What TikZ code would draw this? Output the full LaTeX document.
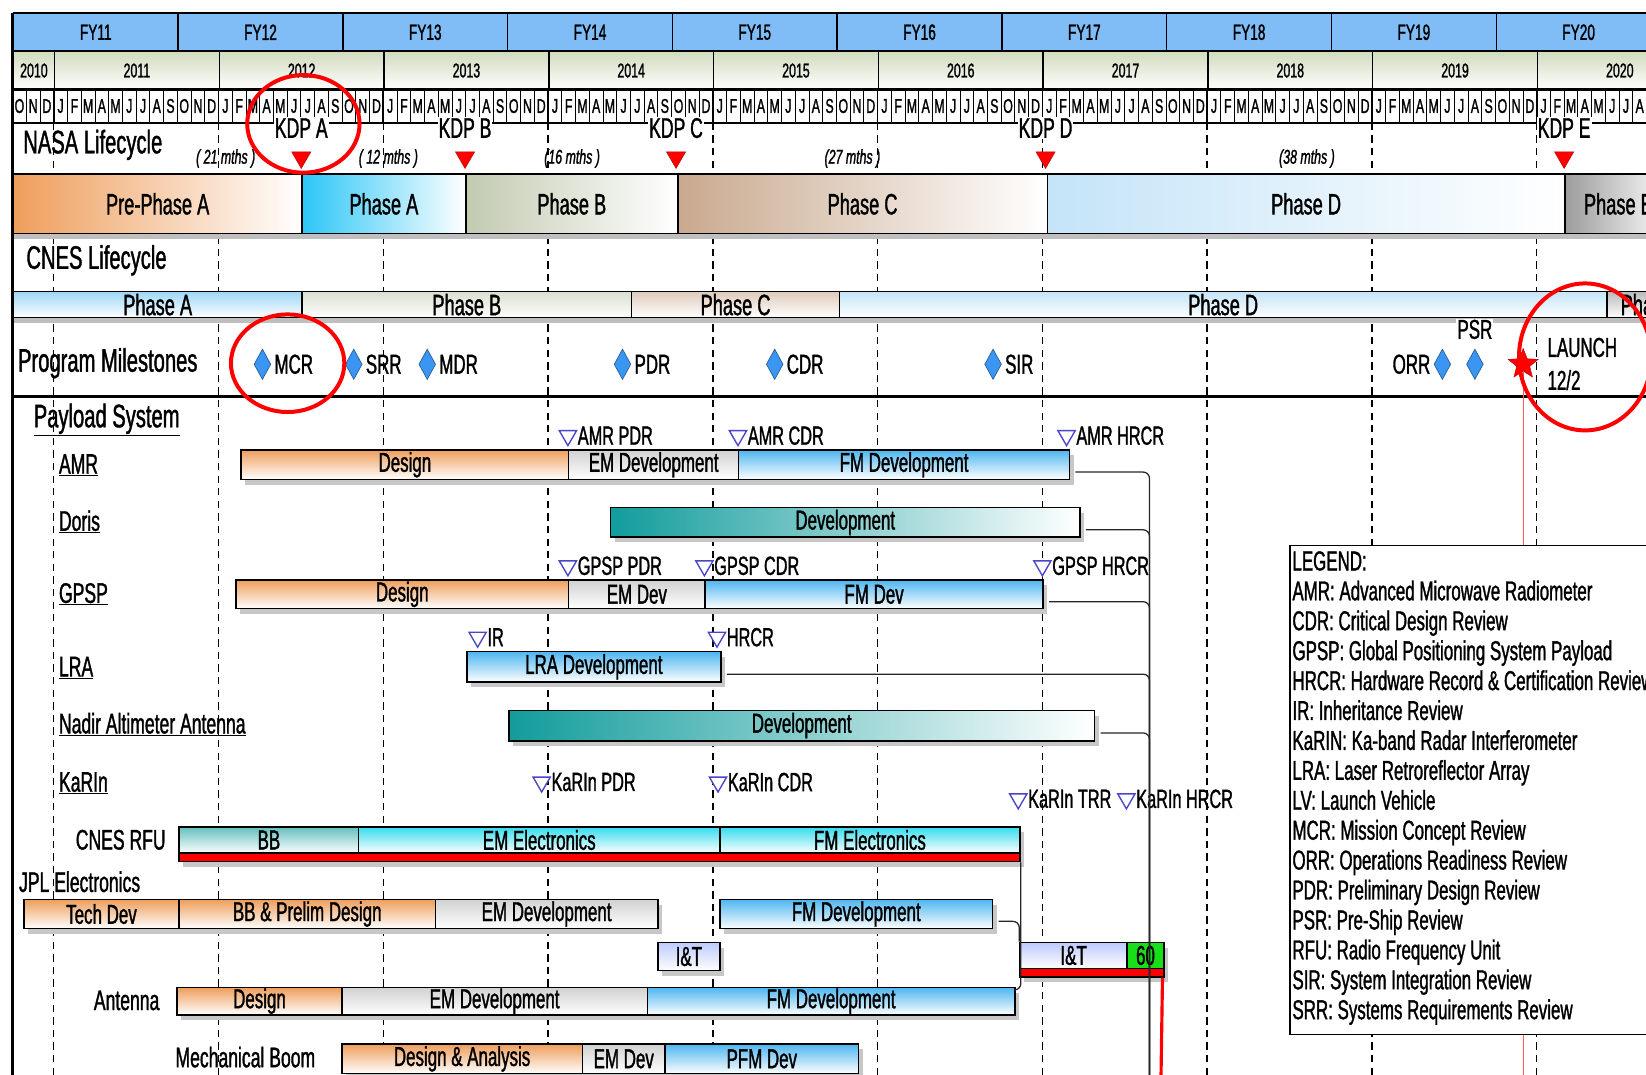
\documentclass[tikz,border=0pt]{standalone}
\usepackage{fontspec}
\setmainfont[FakeStretch=0.62, FakeBold=1.2]{Liberation Sans}
\usepackage{tikz}
\usetikzlibrary{arrows.meta, positioning, shapes.geometric, shadows, calc}
\definecolor{swotfy}{HTML}{80BDF7}
\definecolor{swotyear}{HTML}{D2DABE}
\definecolor{swotorange}{HTML}{EE9E5C}
\definecolor{swotcyan}{HTML}{2CC6F6}
\definecolor{swotsage}{HTML}{C2CAB0}
\definecolor{swottan}{HTML}{C9A98E}
\definecolor{swotsky}{HTML}{C4E4F8}
\definecolor{swotgrey}{HTML}{9C9C9C}
\definecolor{swotblue}{HTML}{4EB6F0}
\definecolor{swotteal}{HTML}{129C9C}
\definecolor{swotaqua}{HTML}{34DCEC}
\definecolor{swotdiamond}{HTML}{3A96F2}
\definecolor{swottri}{HTML}{4A46C8}
\definecolor{swotgreen}{HTML}{18E018}
\newcommand{\monthletter}[1]{\ifcase#1 O\or N\or D\or J\or F\or M\or A\or M\or J\or J\or A\or S\fi}

\tikzset{
  fycell/.style={draw=black, line width=1.4pt, fill=swotfy, anchor=north west, inner sep=0pt,
    minimum height=36pt, font=\fontsize{21}{23}\selectfont},
  yearcell/.style={draw=black, line width=1.4pt, top color=swotyear, bottom color=white,
    anchor=north west, inner sep=0pt, minimum height=37pt, font=\fontsize{19}{21}\selectfont},
  monthlab/.style={inner sep=0pt, font=\fontsize{19}{21}\selectfont},
  yearline/.style={line width=1.3pt, dash pattern=on 7pt off 5pt},
  kdptri/.style={regular polygon, regular polygon sides=3, shape border rotate=180, fill=red,
    draw=red!70!black, minimum size=21pt, inner sep=0pt},
  kdplab/.style={fill=white, inner sep=1pt, font=\fontsize{27}{29}\selectfont},
  durlab/.style={inner sep=0pt, font=\itshape\fontsize{19}{21}\selectfont},
  phasecell/.style={draw=black, line width=1.4pt, anchor=north west, inner sep=0pt,
    font=\fontsize{28}{30}\selectfont},
  sectlab/.style={anchor=west, inner sep=0pt, font=\fontsize{31}{33}\selectfont},
  msdiamond/.style={diamond, fill=swotdiamond, draw=swotdiamond!60!black, line width=0.6pt,
    minimum width=16pt, minimum height=29pt, inner sep=0pt},
  mslab/.style={inner sep=1pt, font=\fontsize{26}{28}\selectfont},
  rowlab/.style={inner sep=0pt, font=\fontsize{27}{29}\selectfont},
  bar/.style={draw=black, line width=1.4pt, anchor=north west, inner sep=0pt,
    font=\fontsize{26}{28}\selectfont,
    drop shadow={shadow xshift=4pt, shadow yshift=-5pt, fill=black!22, opacity=1}},
  orangebar/.style={bar, top color=swotorange, bottom color=white},
  greybar/.style={bar, top color=black!18, bottom color=white},
  bluebar/.style={bar, top color=swotblue, bottom color=white},
  tealbar/.style={bar, left color=swotteal, right color=white},
  aquabar/.style={bar, top color=swotaqua, bottom color=white},
  bbbar/.style={bar, top color=swotteal!65, bottom color=white},
  lavbar/.style={bar, top color=swotblue!45!blue!30, bottom color=white},
  redbar/.style={bar, fill=red},
  greenbar/.style={bar, fill=swotgreen},
  revtri/.style={regular polygon, regular polygon sides=3, shape border rotate=180,
    draw=swottri, line width=1.3pt, fill=white, minimum size=19pt, inner sep=0pt},
  revlab/.style={inner sep=0pt, font=\fontsize{25}{27}\selectfont},
  link/.style={line width=1.2pt, draw=black!85, rounded corners=6pt},
  hilite/.style={ellipse, draw=red, line width=3.8pt, inner sep=0pt},
  legendbox/.style={draw=black, line width=1.4pt, fill=white, anchor=north west,
    minimum width=420pt, minimum height=466pt},
  legendtxt/.style={anchor=north west, align=left, inner sep=0pt,
    font=\fontsize{26}{28.5}\selectfont}
}

\begin{document}
\begin{tikzpicture}[x=1pt, y=-1pt]
  \def\mw{13.08} % month width
  \useasboundingbox (0,0) rectangle (1568,1024);
  \clip (0,0) rectangle (1568,1024);
  \fill[white] (0,0) rectangle (1568,1024);

  % dashed year lines
  \foreach \k in {0,...,9}{
    \pgfmathsetmacro{\xa}{12+(3+12*\k)*\mw}
    \draw[yearline] (\xa,117) -- (\xa,1024);
  }

  % fiscal years
  \foreach \k in {0,...,9}{
    \pgfmathsetmacro{\xa}{12+12*\k*\mw}
    \pgfmathtruncatemacro{\fy}{11+\k}
    \node[fycell, minimum width={12*\mw*1pt}] (fy\fy) at (\xa,12) {FY\fy};
  }
  % calendar years
  \node[yearcell, minimum width={3*\mw*1pt}] (yr2010) at (12,48) {2010};
  \foreach \k in {0,...,9}{
    \pgfmathsetmacro{\xa}{12+(3+12*\k)*\mw}
    \pgfmathtruncatemacro{\yr}{2011+\k}
    \node[yearcell, minimum width={12*\mw*1pt}] (yr\yr) at (\xa,48) {\yr};
  }
  % months
  \draw[line width=1.4pt] (12,85) rectangle (1600,117);
  \foreach \m in {0,...,119}{
    \pgfmathtruncatemacro{\mi}{mod(\m,12)}
    \draw[line width=0.9pt] ({12+\m*\mw},85) -- ({12+\m*\mw},117);
    \node[monthlab] (mon\m) at ({12+(\m+0.5)*\mw},101) {\monthletter{\mi}};
  }
  \foreach \k in {0,...,9}
    \draw[line width=1.6pt] ({12+(3+12*\k)*\mw},85) -- ({12+(3+12*\k)*\mw},117);

  % NASA lifecycle
  \node[sectlab] (nasa) at (22,138) {NASA Lifecycle};
  \foreach \nm/\xx/\lab in {kdpa/287/KDP A, kdpb/443/KDP B, kdpc/644/KDP C, kdpd/996/KDP D, kdpe/1490/KDP E}{
    \node[kdptri] (\nm) at (\xx,150) {};
    \node[kdplab] (\nm-l) at (\xx,122) {\lab};
  }
  \foreach \xx/\lab [count=\n] in {215/{( 21 mths )}, 370/{( 12 mths )}, 545/{(16 mths )},
      812/{(27 mths )}, 1245/{(38 mths )}}
    \node[durlab] (dur\n) at (\xx,151) {\lab};
  \foreach \nm/\xa/\xb/\col/\lab in {preA/12/287/swotorange/Pre-Phase A, nphA/287/443/swotcyan/Phase A,
      nphB/443/645/swotsage/Phase B, nphC/645/997/swottan/Phase C, nphD/997/1490/swotsky/Phase D,
      nphE/1490/1592/swotgrey/Phase E}
    \node[phasecell, left color=\col, right color=white, minimum width={(\xb-\xa)*1pt},
      minimum height=57pt] (\nm) at (\xa,165) {\lab};
  \fill[black!25] (12,223) rectangle (1568,228);

  % CNES lifecycle
  \node[sectlab] (cnes) at (25,248) {CNES Lifecycle};
  \foreach \nm/\xa/\xb/\col/\lab in {cphA/12/287/swotblue!55/Phase A, cphB/287/601/swotsage!60/Phase B,
      cphC/601/799/swottan!60/Phase C, cphD/799/1530/swotsky/Phase D, cphE/1530/1622/swotgrey!70/Phase E}
    \node[phasecell, top color=\col, bottom color=white, minimum width={(\xb-\xa)*1pt},
      minimum height=25pt] (\nm) at (\xa,277) {\lab};
  \fill[black!25] (12,303) rectangle (1568,308);

  % program milestones
  \node[sectlab] (progms) at (17,346) {Program Milestones};
  \foreach \nm/\xx/\lab in {mcr/250/MCR, srr/337/SRR, mdr/407/MDR, pdr/593/PDR, cdr/738/CDR, sir/946/SIR}{
    \node[msdiamond] (d\nm) at (\xx,347) {};
    \node[mslab, right=2pt of d\nm] (l\nm) {\lab};
  }
  \node[msdiamond] (dorr) at (1374,347) {};
  \node[mslab, left=2pt of dorr] (lorr) {ORR};
  \node[msdiamond] (dpsr) at (1405,347) {};
  \node[mslab, fill=white, above=8pt of dpsr] (lpsr) {PSR};
  \node[star, star points=5, star point ratio=2.3, fill=red, draw=red!70!black,
    minimum size=30pt, inner sep=0pt] (lstar) at (1451,347) {};
  \node[mslab, anchor=west] (llaunch) at (1473,331) {LAUNCH};
  \draw[line width=2.5pt] (12,378) -- (1568,378);
  \node[mslab, anchor=west, fill=white] (ldate) at (1473,362) {12/2};
  \coordinate (launchend) at (1451,1024);
  \draw[red!65, line width=1.3pt] (lstar.south) -- (launchend);

  % payload system
  \node[sectlab] (payload) at (32,400) {\underline{Payload System}};
  \foreach \nm/\yy/\lab in {amr/443/AMR, doris/497/Doris, gpsp/566/GPSP, lra/636/LRA,
      nadir/690/Nadir Altimeter Antenna, karin/746/KaRIn}
    \node[rowlab, anchor=west] (row\nm) at (56,\yy) {\underline{\lab}};
  \node[rowlab, anchor=east] (rowrfu) at (158,800) {CNES RFU};
  \node[rowlab, anchor=west] (rowjpl) at (18,840) {JPL Electronics};
  \node[rowlab, anchor=east] (rowant) at (152,953) {Antenna};
  \node[rowlab, anchor=west] (rowboom) at (167,1007) {Mechanical Boom};

  % bars
  \foreach \nm/\xa/\xb/\ya/\yb/\st/\txt in {
    amrdes/229/541/428/456/orangebar/Design,
    amrem/541/703/428/456/greybar/EM Development,
    amrfm/703/1018/428/456/bluebar/FM Development,
    dordev/581/1028/483/511/tealbar/Development,
    gpsdes/224/541/552/579/orangebar/Design,
    gpsem/541/671/552/579/greybar/EM Dev,
    gpsfm/671/993/552/579/bluebar/FM Dev,
    lradev/444/686/620/649/bluebar/LRA Development,
    naddev/484/1042/676/705/tealbar/Development,
    rfubb/170/341/787/812/bbbar/BB,
    rfuem/341/685/787/812/aquabar/EM Electronics,
    rfufm/685/971/787/812/aquabar/FM Electronics,
    rfured/170/971/812/820/redbar/{},
    jpltech/22/170/856/884/orangebar/Tech Dev,
    jplbb/170/414/856/884/orangebar/BB \& Prelim Design,
    jplem/414/626/856/884/greybar/EM Development,
    jplfm/685/945/856/884/bluebar/FM Development,
    jpliat/626/685/897/924/lavbar/I\&T,
    iat/971/1073/897/922/lavbar/I\&T,
    iatsixty/1073/1108/897/922/greenbar/60,
    iatred/971/1108/922/930/redbar/{},
    antdes/168/325/940/966/orangebar/Design,
    antem/325/616/940/966/greybar/EM Development,
    antfm/616/966/940/966/bluebar/FM Development,
    boomdes/325/554/994/1022/orangebar/Design \& Analysis,
    boomem/554/633/994/1022/greybar/EM Dev,
    boompfm/633/817/994/1022/bluebar/PFM Dev}
    \node[\st, minimum width={(\xb-\xa)*1pt}, minimum height={(\yb-\ya)*1pt}] (\nm) at (\xa,\ya) {\txt};

  % reviews
  \foreach \nm/\xx/\yy/\txt in {amrpdr/541/415/AMR PDR, amrcdr/703/415/AMR CDR, amrhrcr/1016/415/AMR HRCR,
      gpspdr/541/539/GPSP PDR, gpscdr/671/539/GPSP CDR, gpshrcr/993/539/GPSP HRCR,
      lrair/455/607/IR, lrahrcr/683/607/HRCR, karpdr/516/745/KaRIn PDR, karcdr/684/745/KaRIn CDR,
      kartrr/970/761/KaRIn TRR, karhrcr/1073/761/KaRIn HRCR}{
    \node[revtri] (t\nm) at (\xx,\yy) {};
    \node[revlab, right=3pt of t\nm] (l\nm) {\txt};
  }

  % connectors
  \coordinate (trunkend) at (1095,1024);
  \foreach \nm in {amrfm, dordev, gpsfm, lradev, naddev}
    \draw[link] ($(\nm.east)+(5,7)$) -| (trunkend);
  \draw[link] (rfured.south east) |- ($(antfm.north east)+(0,3)$);
  \draw[link] ($(jplfm.east)+(5,7)$) -| (iat.north west);
  \coordinate (redend) at (1106,1024);
  \draw[red, line width=3pt] ($(iatred.south east)+(-2,0)$) -- (redend);

  % legend
  \node[legendbox] (legend) at (1228,519) {};
  \node[legendtxt] (legendtext) at ($(legend.north west)+(3,6)$) {LEGEND:\\
    AMR: Advanced Microwave Radiometer\\
    CDR: Critical Design Review\\
    GPSP: Global Positioning System Payload\\
    HRCR: Hardware Record \& Certification Review\\
    IR: Inheritance Review\\
    KaRIN: Ka-band Radar Interferometer\\
    LRA: Laser Retroreflector Array\\
    LV: Launch Vehicle\\
    MCR: Mission Concept Review\\
    ORR: Operations Readiness Review\\
    PDR: Preliminary Design Review\\
    PSR: Pre-Ship Review\\
    RFU: Radio Frequency Unit\\
    SIR: System Integration Review\\
    SRR: Systems Requirements Review};

  % highlights
  \node[hilite, minimum width=107pt, minimum height=93pt] (hlkdpa) at (289,118) {};
  \node[hilite, minimum width=108pt, minimum height=93pt] (hlmcr) at (274,346) {};
  \node[hilite, minimum width=126pt, minimum height=140pt] (hllaunch) at (1510,340) {};

  % frame
  \draw[line width=2.5pt] (12,12) -- (12,1024);
  \draw[line width=2pt] (12,12) -- (1568,12);
\end{tikzpicture}
\end{document}
